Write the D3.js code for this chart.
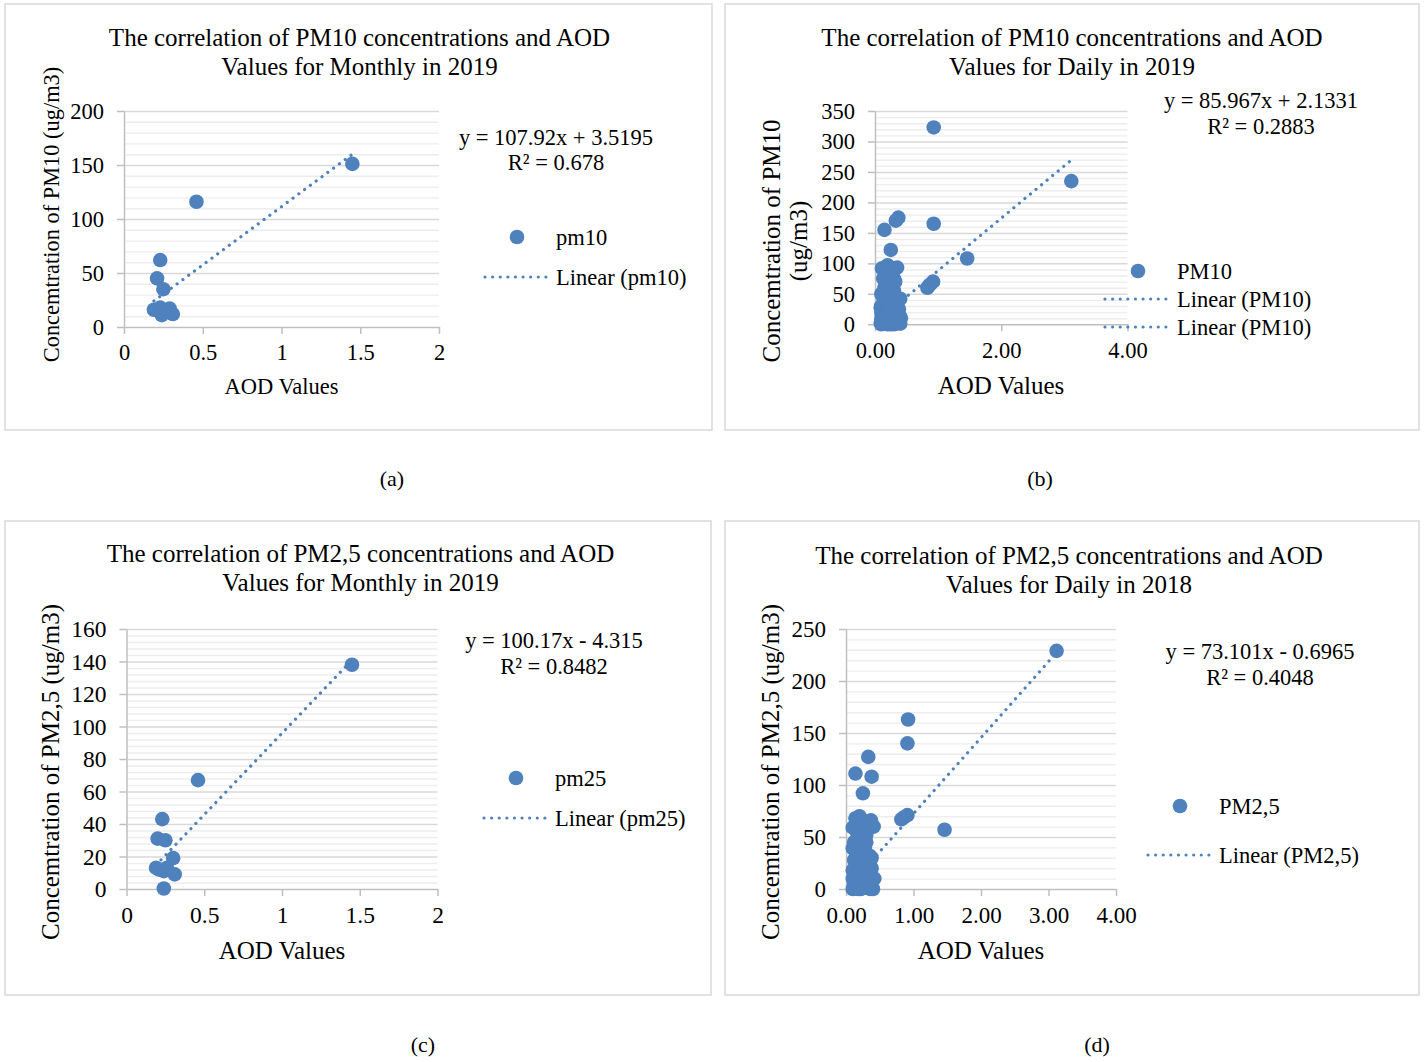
<!DOCTYPE html>
<html>
<head>
<meta charset="utf-8">
<script src="https://cdn.jsdelivr.net/npm/d3@7"></script>
<style>
  body { margin: 0; background: #fff; }
  text { font-family: "Liberation Serif", "Times New Roman", serif; fill: #000; }
</style>
</head>
<body>
<svg id="fig" width="1424" height="1062"></svg>
<script>
// ---- data ----

// (a) PM10 monthly 2019
const pm10MonthAod  = [1.45, 0.46, 0.23, 0.21, 0.25, 0.19, 0.23, 0.24, 0.29, 0.31, 0.22, 0.26];
const pm10MonthConc = [151, 116, 62, 45, 35, 16, 18, 11, 17, 12, 15, 14];

// (b) PM10 daily 2019
const pm10DayAod = [0.93, 3.11, 0.93, 0.37, 0.33, 0.15, 0.25, 1.46, 0.92, 0.83, 0.87,
  0.11, 0.35, 0.2, 0.14, 0.25, 0.22, 0.3, 0.18, 0.27,
  0.1, 0.4, 0.12, 0.2, 0.28, 0.33, 0.16, 0.24, 0.36, 0.1, 0.09, 0.19, 0.29, 0.38, 0.14,
  0.1, 0.11, 0.12, 0.15, 0.18, 0.21, 0.23, 0.26, 0.3, 0.32, 0.35, 0.4, 0.41, 0.09,
  0.1, 0.13, 0.2, 0.25, 0.3, 0.35, 0.4, 0.38, 0.1, 0.16, 0.28, 0.22, 0.33,
  0.15, 0.25, 0.3, 0.2, 0.32, 0.13, 0.26];
const pm10DayConc = [323, 235, 165, 175, 170, 155, 122, 108, 70, 60, 65,
  92, 93, 97, 88, 78, 85, 75, 82, 90,
  50, 42, 47, 45, 50, 45, 38, 40, 35, 30, 28, 30, 33, 25, 25,
  20, 15, 10, 5, 18, 12, 3, 22, 15, 8, 18, 12, 10, 2,
  0, 1, 0, 0, 0, 2, 1, 5, 8, 14, 6, 26, 28,
  60, 62, 55, 70, 70, 75, 86];

// (c) PM2,5 monthly 2019
const pm25MonthAod  = [1.45, 0.46, 0.23, 0.2, 0.25, 0.3, 0.19, 0.24, 0.31, 0.24, 0.21, 0.26];
const pm25MonthConc = [138, 67, 43, 31, 30, 19, 13, 11, 9, 0.3, 12, 13];

// (d) PM2,5 daily 2018
const pm25DayAod = [3.12, 0.92, 0.91, 0.33, 0.14, 0.38, 0.25, 0.82, 0.91, 1.46, 0.86,
  0.2, 0.37, 0.1, 0.41, 0.15, 0.28, 0.24, 0.1, 0.18, 0.3, 0.35, 0.22, 0.14, 0.27,
  0.38, 0.1, 0.2, 0.32, 0.42, 0.12, 0.16, 0.22, 0.28, 0.34, 0.4, 0.1, 0.25, 0.19,
  0.31, 0.36, 0.13, 0.26, 0.17, 0.3, 0.21,
  0.12, 0.15, 0.18, 0.24, 0.28, 0.33, 0.12, 0.2, 0.3, 0.16, 0.26, 0.34, 0.38, 0.1,
  0.22, 0.14, 0.3, 0.25, 0.18, 0.36];
const pm25DayConc = [229, 163, 140, 127, 111, 108, 92, 67, 71, 57, 69,
  70, 66, 59, 60, 64, 62, 55, 39, 48, 45, 32, 38, 25, 28,
  20, 18, 15, 12, 10, 5, 2, 0, 3, 1, 0, 0, 22, 30,
  20, 5, 12, 8, 42, 52, 60,
  45, 35, 22, 35, 40, 25, 28, 8, 30, 55, 48, 15, 30, 10,
  18, 68, 65, 5, 0, 0];

const titles = [
  ["The correlation of PM10 concentrations and AOD", "Values for Monthly in 2019"],
  ["The correlation of PM10 concentrations and AOD", "Values for Daily in 2019"],
  ["The correlation of PM2,5 concentrations and AOD", "Values for Monthly in 2019"],
  ["The correlation of PM2,5 concentrations and AOD", "Values for Daily in 2018"]
];
const yTitles = [
  ["Concemtration of PM10 (ug/m3)"],
  ["Concemtration of PM10", "(ug/m3)"],
  ["Concemtration of PM2,5 (ug/m3)"],
  ["Concemtration of PM2,5 (ug/m3)"]
];
const xTitle = "AOD Values";
const seriesNames = ["pm10", "PM10", "pm25", "PM2,5"];
const trendSlopes = [107.92, 85.967, 100.17, 73.101];
const trendIntercepts = [3.5195, 2.1331, -4.315, -0.6965];
const equations = [
  ["y = 107.92x + 3.5195", "R² = 0.678"],
  ["y = 85.967x + 2.1331", "R² = 0.2883"],
  ["y = 100.17x - 4.315", "R² = 0.8482"],
  ["y = 73.101x - 0.6965", "R² = 0.4048"]
];
const panelLabels = ["(a)", "(b)", "(c)", "(d)"];
const xTickSets = [[0, 0.5, 1, 1.5, 2], [0, 2, 4], [0, 0.5, 1, 1.5, 2], [0, 1, 2, 3, 4]];
const yMaxes = [200, 350, 160, 250];
const yMajorSteps = [50, 50, 20, 50];

// ---- layout ----
const COLOR = "#4f81bd";
const panels = [
  { frame: [5, 4, 707, 426], plot: [124, 439, 111, 327], xs: pm10MonthAod, ys: pm10MonthConc,
    xFmt: d3.format(""), tickFont: 22.5, xPad: 10.5, titleX: 359.5, titleY: [46, 75],
    yTitleX: [59], yTitleY: 214.5, yTitleFont: 22.4, xTitleX: 281.5, xTitleY: 394, xTitleFont: 22.5,
    eqX: 556, eqY: [145, 170],
    legend: { mx: 517, my: 237, tx: 556, lines: [277], lx: [485, 548] },
    label: [392, 486] },
  { frame: [725, 4, 694, 426], plot: [875, 1127.5, 111, 324.3], xs: pm10DayAod, ys: pm10DayConc,
    xFmt: d3.format(".2f"), tickFont: 22.5, xPad: 11, titleX: 1072, titleY: [46, 75],
    yTitleX: [780, 807], yTitleY: 241, yTitleFont: 25, xTitleX: 1001, xTitleY: 394, xTitleFont: 25,
    eqX: 1261, eqY: [108, 134],
    legend: { mx: 1138, my: 271, tx: 1177, lines: [299, 327], lx: [1105, 1168] },
    label: [1040, 486] },
  { frame: [5, 521, 706, 474], plot: [126.5, 437.5, 629, 889], xs: pm25MonthAod, ys: pm25MonthConc,
    xFmt: d3.format(""), tickFont: 23.5, xPad: 10.5, titleX: 360.5, titleY: [562, 591],
    yTitleX: [59], yTitleY: 772, yTitleFont: 25, xTitleX: 282, xTitleY: 959, xTitleFont: 25,
    eqX: 554, eqY: [648, 674],
    legend: { mx: 516, my: 778, tx: 555, lines: [818], lx: [484, 547] },
    label: [423, 1052] },
  { frame: [725, 521, 694, 474], plot: [846, 1116, 629, 889], xs: pm25DayAod, ys: pm25DayConc,
    xFmt: d3.format(".2f"), tickFont: 23, xPad: 10.5, titleX: 1069, titleY: [564, 593],
    yTitleX: [779], yTitleY: 772, yTitleFont: 25, xTitleX: 981, xTitleY: 959, xTitleFont: 25,
    eqX: 1260, eqY: [659, 685],
    legend: { mx: 1180, my: 806, tx: 1219, lines: [855], lx: [1148, 1211] },
    label: [1097, 1052] }
];

const svg = d3.select("#fig");

function drawPanel(p, i) {
  const g = svg.append("g");
  const [x0, x1, y0, y1] = p.plot;

  g.append("rect")
    .attr("x", p.frame[0]).attr("y", p.frame[1])
    .attr("width", p.frame[2]).attr("height", p.frame[3])
    .attr("fill", "#fff").attr("stroke", "#d9d9d9").attr("stroke-width", 1.5);

  const xTicks = xTickSets[i];
  const x = d3.scaleLinear().domain([0, xTicks[xTicks.length - 1]]).range([x0, x1]);
  const y = d3.scaleLinear().domain([0, yMaxes[i]]).range([y1, y0]);

  const minorStep = yMajorSteps[i] / 5;
  const nMinor = Math.round(yMaxes[i] / minorStep);
  const minors = d3.range(1, nMinor + 1).filter(k => k % 5 !== 0).map(k => k * minorStep);
  const majors = d3.range(0, yMaxes[i] / yMajorSteps[i] + 1).map(k => k * yMajorSteps[i]);

  // minor grid
  g.append("g").attr("transform", `translate(${x0},0)`)
    .call(d3.axisLeft(y).tickValues(minors).tickSize(-(x1 - x0)).tickFormat(""))
    .call(a => a.select(".domain").remove())
    .selectAll("line").attr("stroke", "#ededed").attr("stroke-width", 1.4);

  // major grid
  g.append("g").attr("transform", `translate(${x0},0)`)
    .call(d3.axisLeft(y).tickValues(majors.filter(v => v > 0)).tickSize(-(x1 - x0)).tickFormat(""))
    .call(a => a.select(".domain").remove())
    .selectAll("line").attr("stroke", "#d9d9d9").attr("stroke-width", 1.5);

  // y axis
  const yAx = g.append("g").attr("transform", `translate(${x0},0)`)
    .call(d3.axisLeft(y).tickValues(majors).tickSize(7).tickSizeOuter(0).tickPadding(13));
  yAx.select(".domain").attr("stroke", "#bfbfbf").attr("stroke-width", 1.5);
  yAx.selectAll("line").attr("stroke", "#bfbfbf").attr("stroke-width", 1.5);
  yAx.selectAll("text").attr("font-size", p.tickFont)
    .style("font-family", '"Liberation Serif", serif').attr("fill", "#000");

  // x axis
  const xAx = g.append("g").attr("transform", `translate(0,${y1})`)
    .call(d3.axisBottom(x).tickValues(xTicks).tickFormat(p.xFmt)
      .tickSize(7).tickSizeOuter(0).tickPadding(p.xPad));
  xAx.select(".domain").attr("stroke", "#bfbfbf").attr("stroke-width", 1.5);
  xAx.selectAll("line").attr("stroke", "#bfbfbf").attr("stroke-width", 1.5);
  xAx.selectAll("text").attr("font-size", p.tickFont)
    .style("font-family", '"Liberation Serif", serif').attr("fill", "#000");

  // points
  g.append("g").selectAll("circle")
    .data(d3.zip(p.xs, p.ys))
    .join("circle")
    .attr("cx", d => x(d[0]))
    .attr("cy", d => y(d[1]))
    .attr("r", 7.3)
    .attr("fill", COLOR);

  // linear trend line
  const [tMin, tMax] = d3.extent(p.xs);
  const trend = [tMin, tMax].map(v => [v, trendSlopes[i] * v + trendIntercepts[i]]);
  g.append("path")
    .attr("d", d3.line().x(d => x(d[0])).y(d => y(d[1]))(trend))
    .attr("fill", "none").attr("stroke", COLOR).attr("stroke-width", 3.2)
    .attr("stroke-linecap", "round").attr("stroke-dasharray", "0.01 7.2");

  // titles
  titles[i].forEach((t, k) => {
    g.append("text").attr("x", p.titleX).attr("y", p.titleY[k])
      .attr("text-anchor", "middle").attr("font-size", 25).text(t);
  });
  yTitles[i].forEach((t, k) => {
    g.append("text")
      .attr("transform", `translate(${p.yTitleX[k]},${p.yTitleY}) rotate(-90)`)
      .attr("text-anchor", "middle").attr("font-size", p.yTitleFont).text(t);
  });
  g.append("text").attr("x", p.xTitleX).attr("y", p.xTitleY)
    .attr("text-anchor", "middle").attr("font-size", p.xTitleFont).text(xTitle);

  // equation
  equations[i].forEach((t, k) => {
    g.append("text").attr("x", p.eqX).attr("y", p.eqY[k])
      .attr("text-anchor", "middle").attr("font-size", 22.5).text(t);
  });

  // legend
  const L = p.legend;
  g.append("circle").attr("cx", L.mx).attr("cy", L.my).attr("r", 7.3).attr("fill", COLOR);
  g.append("text").attr("x", L.tx).attr("y", L.my + 8).attr("font-size", 22.5).text(seriesNames[i]);
  L.lines.forEach(ly => {
    g.append("line").attr("x1", L.lx[0]).attr("x2", L.lx[1]).attr("y1", ly).attr("y2", ly)
      .attr("stroke", COLOR).attr("stroke-width", 3.2)
      .attr("stroke-linecap", "round").attr("stroke-dasharray", "0.01 7.6");
    g.append("text").attr("x", L.tx).attr("y", ly + 8).attr("font-size", 22.5)
      .text(`Linear (${seriesNames[i]})`);
  });

  // sub-figure label
  svg.append("text").attr("x", p.label[0]).attr("y", p.label[1])
    .attr("text-anchor", "middle").attr("font-size", 22).text(panelLabels[i]);
}

panels.forEach(drawPanel);
</script>
</body>
</html>
